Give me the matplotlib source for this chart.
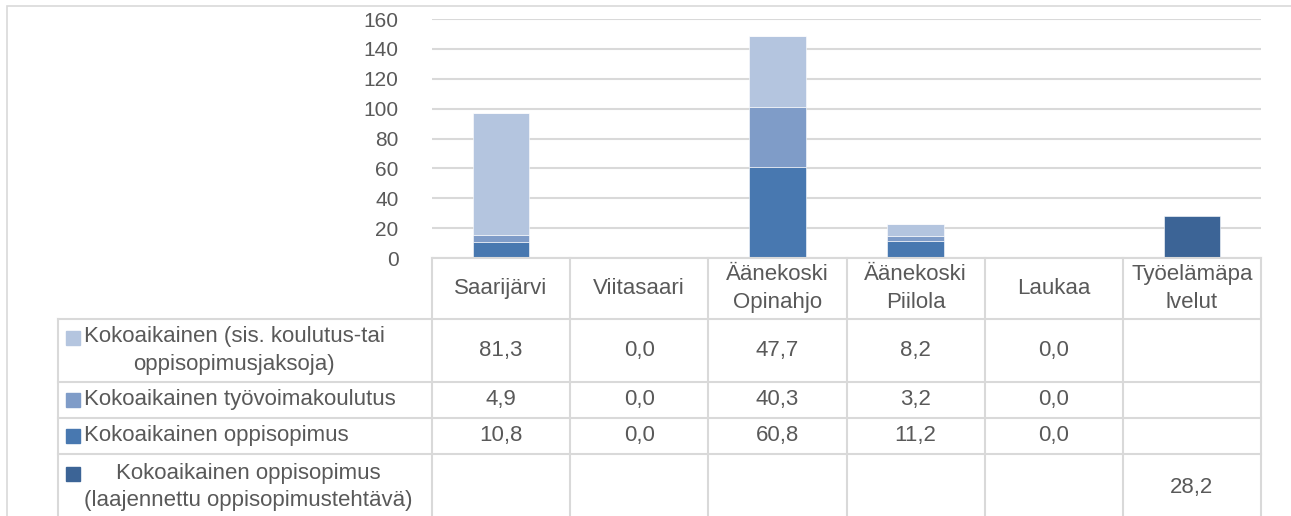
import matplotlib

matplotlib.use("Agg")

import matplotlib.pyplot as plt
import numpy as np
from matplotlib import font_manager
from matplotlib.patches import Rectangle

categories = ["Saarijärvi", "Viitasaari", "Äänekoski\nOpinahjo", "Äänekoski\nPiilola", "Laukaa", "Työelämäpa\nlvelut"]
series_names = [
    "Kokoaikainen (sis. koulutus-tai\noppisopimusjaksoja)",
    "Kokoaikainen työvoimakoulutus",
    "Kokoaikainen oppisopimus",
    "Kokoaikainen oppisopimus\n(laajennettu oppisopimustehtävä)",
]
jaksot = [81.3, 0.0, 47.7, 8.2, 0.0, np.nan]
tyovoimakoulutus = [4.9, 0.0, 40.3, 3.2, 0.0, np.nan]
oppisopimus = [10.8, 0.0, 60.8, 11.2, 0.0, np.nan]
laajennettu = [np.nan, np.nan, np.nan, np.nan, np.nan, 28.2]
y_ticks = [0, 20, 40, 60, 80, 100, 120, 140, 160]

colors = ["#b4c5df", "#7f9cc8", "#4878b0", "#3c6496"]
grid_color = "#d9d9d9"
text_color = "#595959"

names = {f.name for f in font_manager.fontManager.ttflist}
family = ["Liberation Sans Narrow"] if "Liberation Sans Narrow" in names else ["Liberation Sans"]
plt.rcParams["font.family"] = family + ["DejaVu Sans"]

W, H = 1291, 516
fig = plt.figure(figsize=(W / 100, H / 100), dpi=100)

# outer chart border
fig.add_artist(Rectangle((7 / W, -0.1), 1.2, 1 - 6 / H + 0.1, transform=fig.transFigure,
                         fill=False, edgecolor=grid_color, linewidth=1.2))

plot_left, plot_right, plot_bottom, plot_top = 432, 1261, 258, 19
ax = fig.add_axes([plot_left / W, 1 - plot_bottom / H,
                   (plot_right - plot_left) / W, (plot_bottom - plot_top) / H])

x = np.arange(len(categories))
bar_w = 0.41
stack = [oppisopimus, tyovoimakoulutus, jaksot]
stack_colors = [colors[2], colors[1], colors[0]]
bottom = np.zeros(len(categories))
for vals, c in zip(stack, stack_colors):
    v = np.nan_to_num(np.array(vals, dtype=float))
    ax.bar(x, v, bar_w, bottom=bottom, color=c, edgecolor="white", linewidth=0.4, zorder=3)
    bottom += v
ax.bar(x, np.nan_to_num(np.array(laajennettu, dtype=float)), bar_w, bottom=bottom,
       color=colors[3], edgecolor="white", linewidth=0.4, zorder=3)

ax.set_xlim(-0.5, len(categories) - 0.5)
ax.set_ylim(0, 160)
ax.set_yticks(y_ticks)
ax.set_xticks([])
ax.grid(axis="y", color=grid_color, linewidth=1.5, zorder=0)
ax.tick_params(axis="y", length=0, pad=24, labelsize=15, labelcolor=text_color)
for s in ax.spines.values():
    s.set_visible(False)

# data table below the plot
unit = (plot_right - plot_left) / len(categories)
table_left = 58
tab = fig.add_axes([table_left / W, 0, (plot_right - table_left) / W, 1 - plot_bottom / H])
xl = -0.5 - (plot_left - table_left) / unit
xr = len(categories) - 0.5
tab.set_xlim(xl, xr)
tab.set_ylim(H, plot_bottom)
tab.axis("off")

row_edges = [258, 319, 382, 418, 454, 520]
lw = 1.5
tab.plot([-0.5, xr], [row_edges[0]] * 2, color=grid_color, lw=lw, clip_on=False)
for e in row_edges[1:-1]:
    tab.plot([xl, xr], [e, e], color=grid_color, lw=lw, clip_on=False)
for i in range(len(categories) + 1):
    tab.plot([i - 0.5] * 2, [row_edges[0], row_edges[-1]], color=grid_color, lw=lw, clip_on=False)
tab.plot([xl] * 2, [row_edges[1], row_edges[-1]], color=grid_color, lw=lw, clip_on=False)

fs = 16
ls = 1.4
head_mid = (row_edges[0] + row_edges[1]) / 2
for i, cat in enumerate(categories):
    tab.text(i, head_mid, cat, ha="center", va="center", fontsize=fs, color=text_color,
             linespacing=ls)

rows = [jaksot, tyovoimakoulutus, oppisopimus, laajennettu]
line_h = 26
for r, (name, vals) in enumerate(zip(series_names, rows)):
    mid = (row_edges[r + 1] + row_edges[r + 2]) / 2
    n_lines = name.count("\n") + 1
    key_y = mid - (n_lines - 1) * line_h / 2
    tab.plot(xl + 14.5 / unit, key_y, marker="s", markersize=9.5, color=colors[r],
             linestyle="none", clip_on=False)
    tab.text(xl + 26 / unit, mid, name, ha="left", va="center", multialignment="center",
             fontsize=fs, color=text_color, linespacing=ls)
    for i, v in enumerate(vals):
        if not np.isnan(v):
            tab.text(i, mid, f"{v:.1f}".replace(".", ","), ha="center", va="center",
                     fontsize=fs, color=text_color)

fig.savefig("out.png", dpi=100)
